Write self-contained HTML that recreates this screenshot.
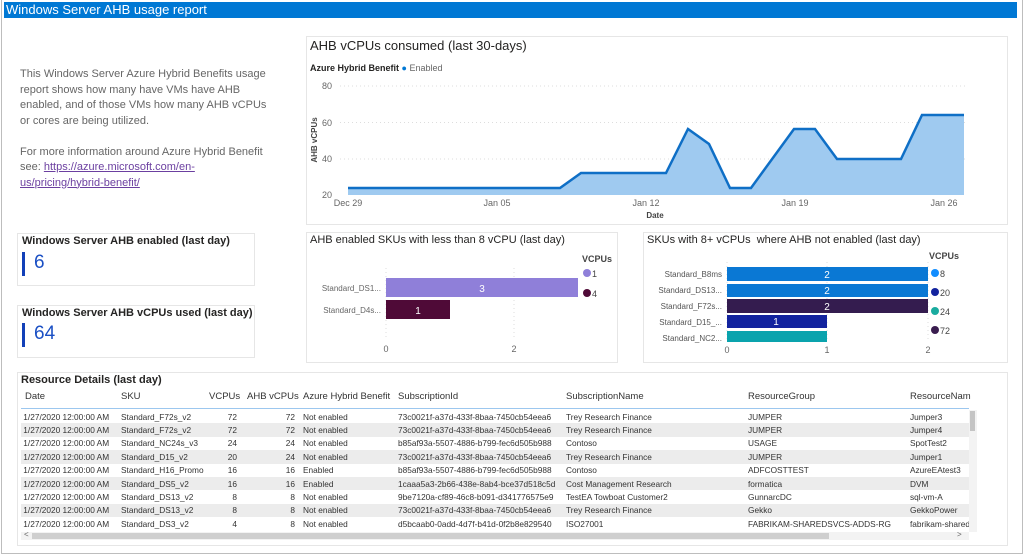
<!DOCTYPE html>
<html><head><meta charset="utf-8"><style>
*{margin:0;padding:0;box-sizing:border-box}
body{width:1024px;height:556px;background:#fff;font-family:"Liberation Sans",sans-serif;position:relative;overflow:hidden;color:#252423}
.abs{position:absolute}
.panel{position:absolute;border:1px solid #e6e6e6;background:#fff}
.t{position:absolute;white-space:nowrap}
table{border-collapse:collapse;font-size:8.3px;color:#333;table-layout:fixed}
td{height:13.4px;padding:0;white-space:nowrap;overflow:hidden}
tr.g td{background:#ececec}
td.a{padding-right:4px}
td.b{padding-left:4px}
</style></head><body>
<div class="abs" style="left:1px;top:0;width:1022px;height:554px;border:1px solid #bdbdbd;border-top:none"></div>
<div class="abs" style="left:4px;top:2px;width:1013px;height:16px;background:#0078d4"></div>
<div class="t" style="left:6px;top:2px;color:#fff;font-size:13px;line-height:16px">Windows Server AHB usage report</div>

<div class="t" style="left:20px;top:67px;font-size:11px;line-height:15.5px;color:#666;white-space:normal;width:250px">This Windows Server Azure Hybrid Benefits usage report shows how many have VMs have AHB enabled, and of those VMs how many AHB vCPUs or cores are being utilized.<br><br>For more information around Azure Hybrid Benefit see: <span style="color:#6b3fa0;text-decoration:underline">https://azure.microsoft.com/en-us/pricing/hybrid-benefit/</span></div>

<div class="panel" style="left:17px;top:233px;width:238px;height:53px"></div>
<div class="t" style="left:22px;top:235px;font-size:11px;font-weight:bold">Windows Server AHB enabled (last day)</div>
<div class="abs" style="left:22px;top:252px;width:3px;height:24px;background:#1240b8"></div>
<div class="t" style="left:34px;top:252px;font-size:19px;color:#1a4fc4">6</div>
<div class="panel" style="left:17px;top:305px;width:238px;height:53px"></div>
<div class="t" style="left:22px;top:307px;font-size:11px;font-weight:bold">Windows Server AHB vCPUs used (last day)</div>
<div class="abs" style="left:22px;top:323px;width:3px;height:24px;background:#1240b8"></div>
<div class="t" style="left:34px;top:323px;font-size:19px;color:#1a4fc4">64</div>

<div class="panel" style="left:306px;top:36px;width:702px;height:189px"></div>
<div class="t" style="left:310px;top:38px;font-size:13px">AHB vCPUs consumed (last 30-days)</div>
<div class="t" style="left:310px;top:63px;font-size:9px"><b>Azure Hybrid Benefit</b> <span style="color:#0078d4">●</span><span style="color:#666"> Enabled</span></div>
<svg class="abs" style="left:0;top:0" width="1024" height="556">
<g stroke="#ddd" stroke-dasharray="1,3">
<line x1="340" x2="965" y1="86" y2="86"/><line x1="340" x2="965" y1="122.5" y2="122.5"/><line x1="340" x2="965" y1="159" y2="159"/>
</g>
<g font-size="9" fill="#666" font-family="Liberation Sans">
<text x="332" y="89" text-anchor="end">80</text><text x="332" y="126" text-anchor="end">60</text><text x="332" y="162" text-anchor="end">40</text><text x="332" y="198" text-anchor="end">20</text>
<text x="348" y="206" text-anchor="middle">Dec 29</text><text x="497" y="206" text-anchor="middle">Jan 05</text><text x="646" y="206" text-anchor="middle">Jan 12</text><text x="795" y="206" text-anchor="middle">Jan 19</text><text x="944" y="206" text-anchor="middle">Jan 26</text>
<text x="655" y="218" text-anchor="middle" font-size="8" font-weight="bold" fill="#444">Date</text>
<text transform="translate(317,140) rotate(-90)" text-anchor="middle" font-size="8" font-weight="bold" fill="#444">AHB vCPUs</text>
</g>
<polygon fill="#9fcaf0" points="348,195 348,188 560,188 581,173 666,173 688,129 709,144 730,188 751,188 794,129 815,129 837,159 901,159 922,115 964,115 964,195"/>
<polyline fill="none" stroke="#0f6fc6" stroke-width="2.5" points="348,188 560,188 581,173 666,173 688,129 709,144 730,188 751,188 794,129 815,129 837,159 901,159 922,115 964,115"/>

<g stroke="#ddd" stroke-dasharray="1,3"><line x1="386" x2="386" y1="268" y2="338"/><line x1="514" x2="514" y1="268" y2="338"/>
<line x1="727" x2="727" y1="262" y2="342"/><line x1="827" x2="827" y1="262" y2="342"/><line x1="928" x2="928" y1="262" y2="342"/></g>
<rect x="386" y="278" width="192" height="19" fill="#8f7fd9"/>
<rect x="386" y="300" width="64" height="19" fill="#4f0a37"/>
<g font-size="10" fill="#fff" text-anchor="middle" font-family="Liberation Sans"><text x="482" y="292">3</text><text x="418" y="314">1</text></g>
<g font-size="8" fill="#666" font-family="Liberation Sans">
<text x="381" y="291" text-anchor="end">Standard_DS1...</text><text x="381" y="313" text-anchor="end">Standard_D4s...</text>
<text x="386" y="352" text-anchor="middle" font-size="9">0</text><text x="514" y="352" text-anchor="middle" font-size="9">2</text>
</g>
<text x="582" y="262" font-size="9" font-weight="bold" fill="#444" font-family="Liberation Sans">VCPUs</text>
<circle cx="587" cy="273" r="4" fill="#8f7fd9"/><text x="592" y="277" font-size="9" fill="#444">1</text>
<circle cx="587" cy="293" r="4" fill="#4f0a37"/><text x="592" y="297" font-size="9" fill="#444">4</text>

<rect x="727" y="267" width="201" height="14" fill="#0a78d4"/>
<rect x="727" y="284" width="201" height="13" fill="#0a78d4"/>
<rect x="727" y="299" width="201" height="14" fill="#341c4f"/>
<rect x="727" y="315" width="100" height="13" fill="#12239e"/>
<rect x="727" y="331" width="100" height="11" fill="#0aa3ad"/>
<g font-size="10" fill="#fff" text-anchor="middle" font-family="Liberation Sans"><text x="827" y="278">2</text><text x="827" y="294">2</text><text x="827" y="310">2</text><text x="776" y="325">1</text></g>
<g font-size="8" fill="#555" font-family="Liberation Sans" text-anchor="end">
<text x="722" y="277">Standard_B8ms</text><text x="722" y="293">Standard_DS13...</text><text x="722" y="309">Standard_F72s...</text><text x="722" y="325">Standard_D15_...</text><text x="722" y="341">Standard_NC2...</text></g>
<g font-size="9" fill="#666" font-family="Liberation Sans" text-anchor="middle"><text x="727" y="353">0</text><text x="827" y="353">1</text><text x="928" y="353">2</text></g>
<text x="929" y="259" font-size="9" font-weight="bold" fill="#444">VCPUs</text>
<g font-size="9" fill="#444"><circle cx="935" cy="273" r="4" fill="#118dff"/><text x="940" y="277">8</text>
<circle cx="935" cy="292" r="4" fill="#12239e"/><text x="940" y="296">20</text>
<circle cx="935" cy="311" r="4" fill="#1aab9f"/><text x="940" y="315">24</text>
<circle cx="935" cy="330" r="4" fill="#3a1d4f"/><text x="940" y="334">72</text></g>
</svg>
<div class="panel" style="left:306px;top:232px;width:312px;height:131px;background:transparent"></div>
<div class="t" style="left:310px;top:234px;font-size:11px">AHB enabled SKUs with less than 8 vCPU (last day)</div>
<div class="panel" style="left:643px;top:232px;width:365px;height:131px;background:transparent"></div>
<div class="t" style="left:647px;top:234px;font-size:11px">SKUs with 8+ vCPUs &nbsp;where AHB not enabled (last day)</div>

<div class="panel" style="left:17px;top:372px;width:991px;height:174px"></div>
<div class="t" style="left:21px;top:374px;font-size:11px;font-weight:bold">Resource Details (last day)</div>
<div class="abs" style="left:21px;top:389px;width:950px;font-size:9.5px;color:#333">
<span class="t" style="left:4px;top:2px">Date</span><span class="t" style="left:100px;top:2px">SKU</span><span class="t" style="left:188px;top:2px">VCPUs</span><span class="t" style="left:226px;top:2px">AHB vCPUs</span><span class="t" style="left:282px;top:2px">Azure Hybrid Benefit</span><span class="t" style="left:377px;top:2px">SubscriptionId</span><span class="t" style="left:545px;top:2px">SubscriptionName</span><span class="t" style="left:727px;top:2px">ResourceGroup</span><span class="t" style="left:889px;top:2px">ResourceNam</span>
</div>
<div class="abs" style="left:21px;top:408px;width:948px;height:1px;background:#9cc7ef"></div>
<table class="abs" style="left:21px;top:410px;width:948px">
<colgroup><col style="width:100px"><col style="width:88px"><col style="width:28px"><col style="width:62px"><col style="width:99px"><col style="width:168px"><col style="width:182px"><col style="width:162px"><col style="width:59px"></colgroup>
<tr><td>&nbsp;1/27/2020 12:00:00 AM</td><td>Standard_F72s_v2</td><td align="right">72</td><td class="a" align="right">72</td><td class="b">Not enabled</td><td>73c0021f-a37d-433f-8baa-7450cb54eea6</td><td>Trey Research Finance</td><td>JUMPER</td><td>Jumper3</td></tr>
<tr class="g"><td>&nbsp;1/27/2020 12:00:00 AM</td><td>Standard_F72s_v2</td><td align="right">72</td><td class="a" align="right">72</td><td class="b">Not enabled</td><td>73c0021f-a37d-433f-8baa-7450cb54eea6</td><td>Trey Research Finance</td><td>JUMPER</td><td>Jumper4</td></tr>
<tr><td>&nbsp;1/27/2020 12:00:00 AM</td><td>Standard_NC24s_v3</td><td align="right">24</td><td class="a" align="right">24</td><td class="b">Not enabled</td><td>b85af93a-5507-4886-b799-fec6d505b988</td><td>Contoso</td><td>USAGE</td><td>SpotTest2</td></tr>
<tr class="g"><td>&nbsp;1/27/2020 12:00:00 AM</td><td>Standard_D15_v2</td><td align="right">20</td><td class="a" align="right">24</td><td class="b">Not enabled</td><td>73c0021f-a37d-433f-8baa-7450cb54eea6</td><td>Trey Research Finance</td><td>JUMPER</td><td>Jumper1</td></tr>
<tr><td>&nbsp;1/27/2020 12:00:00 AM</td><td>Standard_H16_Promo</td><td align="right">16</td><td class="a" align="right">16</td><td class="b">Enabled</td><td>b85af93a-5507-4886-b799-fec6d505b988</td><td>Contoso</td><td>ADFCOSTTEST</td><td>AzureEAtest3</td></tr>
<tr class="g"><td>&nbsp;1/27/2020 12:00:00 AM</td><td>Standard_DS5_v2</td><td align="right">16</td><td class="a" align="right">16</td><td class="b">Enabled</td><td>1caaa5a3-2b66-438e-8ab4-bce37d518c5d</td><td>Cost Management Research</td><td>formatica</td><td>DVM</td></tr>
<tr><td>&nbsp;1/27/2020 12:00:00 AM</td><td>Standard_DS13_v2</td><td align="right">8</td><td class="a" align="right">8</td><td class="b">Not enabled</td><td>9be7120a-cf89-46c8-b091-d341776575e9</td><td>TestEA Towboat Customer2</td><td>GunnarcDC</td><td>sql-vm-A</td></tr>
<tr class="g"><td>&nbsp;1/27/2020 12:00:00 AM</td><td>Standard_DS13_v2</td><td align="right">8</td><td class="a" align="right">8</td><td class="b">Not enabled</td><td>73c0021f-a37d-433f-8baa-7450cb54eea6</td><td>Trey Research Finance</td><td>Gekko</td><td>GekkoPower</td></tr>
<tr><td>&nbsp;1/27/2020 12:00:00 AM</td><td>Standard_DS3_v2</td><td align="right">4</td><td class="a" align="right">8</td><td class="b">Not enabled</td><td>d5bcaab0-0add-4d7f-b41d-0f2b8e829540</td><td>ISO27001</td><td>FABRIKAM-SHAREDSVCS-ADDS-RG</td><td>fabrikam-shared</td></tr>
</table>
<div class="abs" style="left:969px;top:410px;width:8px;height:122px;background:#f3f3f3"></div>
<div class="abs" style="left:970px;top:411px;width:5px;height:20px;background:#c4c4c4"></div>
<div class="abs" style="left:21px;top:532px;width:948px;height:8px;background:#f3f3f3"></div>
<div class="abs" style="left:32px;top:533px;width:797px;height:6px;background:#cfcfcf"></div>
<div class="t" style="left:24px;top:530px;font-size:8px;color:#666">&lt;</div>
<div class="t" style="left:957px;top:530px;font-size:8px;color:#666">&gt;</div>
</body></html>
